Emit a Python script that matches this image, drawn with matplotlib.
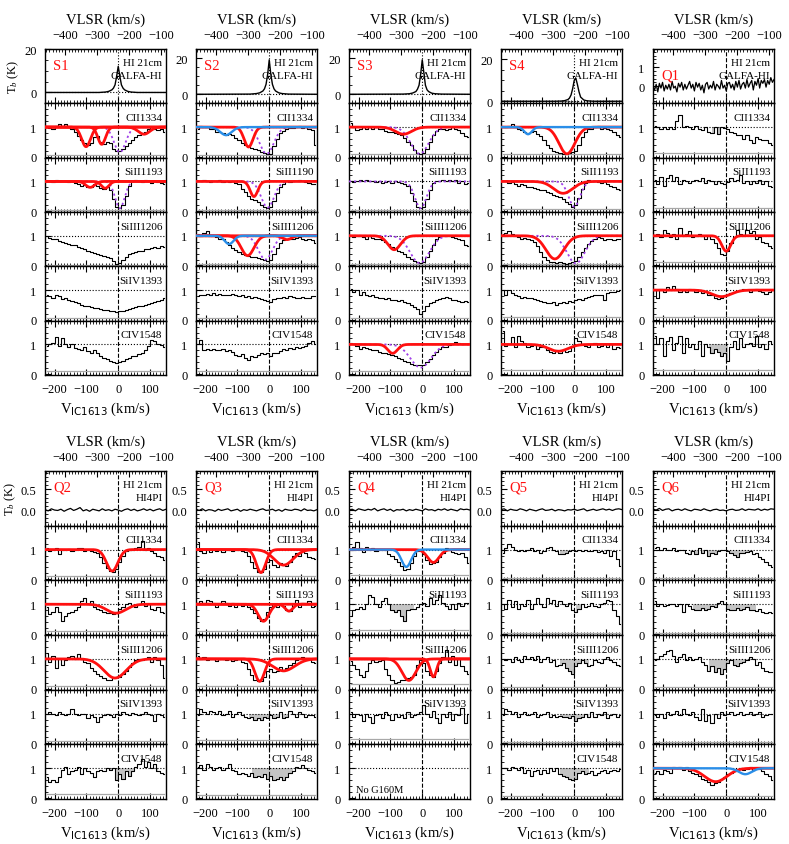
import numpy as np
import matplotlib
matplotlib.use('Agg')
import matplotlib.pyplot as plt
from matplotlib.ticker import MultipleLocator, FormatStrFormatter

plt.rcParams['font.family'] = 'serif'
plt.rcParams['font.serif'] = ['Liberation Serif', 'DejaVu Serif']
plt.rcParams['mathtext.fontset'] = 'custom'
plt.rcParams['mathtext.rm'] = 'Liberation Serif'
plt.rcParams['mathtext.it'] = 'Liberation Serif:italic'
plt.rcParams['mathtext.sf'] = 'DejaVu Sans'

# ---------------- data ----------------
vel = np.arange(-225, 150, 10)          # spectral bin centres (km/s, IC1613 frame)
ions = ['CII1334', 'SiII1193', 'SiIII1206', 'SiIV1393', 'CIV1548']
names = ['S1', 'S2', 'S3', 'S4', 'Q1', 'Q2', 'Q3', 'Q4', 'Q5', 'Q6']
surveys = ['GALFA-HI'] * 5 + ['HI4PI'] * 5
v_offset = -234   # VLSR = V_IC1613 + v_offset

# HI 21cm profiles
hi_v_s = [-230, -60, -40, -30, -20, -15, -10, -5, 0, 5, 10, 15, 20, 30, 40, 60, 150]
S1_HI = [0, 0, 0.2, 0.5, 1.2, 2.0, 3.5, 7.5, 12.0, 7.5, 3.5, 2.0, 1.2, 0.5, 0.2, 0, 0]
S2_HI = [0, 0.1, 0.4, 0.8, 1.8, 3.0, 5.5, 11.0, 19.0, 11.0, 5.5, 3.0, 1.8, 0.8, 0.4, 0.1, 0]
S3_HI = [0, 0.1, 0.3, 0.7, 1.5, 2.8, 5.0, 11.0, 19.0, 12.0, 5.0, 2.5, 1.5, 0.6, 0.3, 0.1, 0]
S4_HI = [0, 0, 0.1, 0.3, 0.8, 1.5, 3.0, 6.0, 10.0, 11.0, 8.0, 4.5, 2.0, 0.6, 0.2, 0, 0]
hi_v_q1 = np.arange(-230, 151, 5)
Q1_HI = [0.0, -0.2, 0.1, -0.3, 0.15, -0.1, 0.2, -0.25, 0.05, -0.15,
         0.1, -0.2, 0.25, -0.1, 0.0, -0.3, 0.15, -0.05, 0.2, -0.2,
         0.1, -0.15, 0.05, 0.25, -0.1, 0.1, -0.25, 0.2, -0.05, 0.15,
         -0.2, 0.05, -0.35, 0.1, 0.2, -0.15, 0.05, -0.1, 0.25, -0.2,
         0.1, 0.0, -0.15, 0.3, -0.1, 0.05, -0.25, 0.15, 0.2, -0.1,
         0.1, -0.2, 0.25, -0.05, 0.3, -0.15, 0.1, 0.2, -0.1, 0.35,
         -0.05, 0.15, 0.3, -0.2, 0.25, 0.05, 0.4, -0.1, 0.3, 0.15,
         0.35, -0.05, 0.3, 0.1, 0.45, 0.2, 0.35]
hi_v_q = np.arange(-230, 151, 10)
Q2_HI = [0.01, -0.02, 0.03, 0.0, -0.01, 0.02, -0.03, 0.01, 0.04, -0.01,
         0.02, 0.06, -0.02, 0.01, -0.03, 0.02, 0.0, -0.02, 0.03, -0.01,
         0.01, -0.02, 0.02, 0.0, -0.03, 0.01, 0.03, -0.01, 0.02, -0.02,
         0.0, 0.03, -0.01, 0.02, -0.02, 0.01, 0.03, -0.01, 0.02]
Q3_HI = [0.02, -0.01, 0.03, -0.02, 0.01, 0.0, -0.03, 0.02, -0.01, 0.01,
         0.03, -0.02, 0.0, 0.02, -0.03, 0.01, -0.01, 0.02, 0.0, -0.02,
         0.01, 0.03, -0.01, 0.0, 0.02, -0.02, 0.01, -0.03, 0.02, 0.0,
         -0.01, 0.02, 0.01, -0.02, 0.03, -0.01, 0.0, -0.02, 0.01]
Q4_HI = [0.0, 0.02, -0.02, 0.03, 0.01, -0.01, 0.02, 0.0, 0.04, -0.02,
         0.01, 0.03, -0.01, 0.02, -0.03, 0.01, 0.0, 0.02, -0.02, 0.01,
         -0.01, 0.02, 0.0, -0.02, 0.03, 0.0, 0.01, -0.02, 0.02, 0.0,
         0.03, -0.01, 0.02, 0.0, -0.02, 0.03, 0.01, 0.02, 0.0]
Q5_HI = [0.01, 0.03, -0.02, 0.02, 0.0, -0.01, 0.03, 0.01, -0.02, 0.02,
         0.0, -0.02, 0.01, 0.03, -0.01, 0.0, 0.02, -0.02, 0.01, 0.0,
         -0.02, 0.01, 0.0, 0.02, -0.01, 0.01, 0.03, -0.02, 0.0, 0.02,
         -0.01, 0.01, 0.03, 0.0, 0.02, -0.01, 0.02, 0.03, 0.01]
Q6_HI = [0.02, 0.0, 0.04, -0.01, 0.02, 0.03, -0.02, 0.01, 0.02, -0.01,
         0.03, 0.0, -0.02, 0.02, 0.01, -0.01, 0.03, 0.0, -0.02, 0.01,
         0.02, -0.01, 0.0, -0.02, 0.01, 0.02, -0.01, 0.0, 0.03, -0.01,
         0.02, 0.01, 0.0, 0.03, -0.01, 0.02, 0.0, 0.03, 0.02]

# normalized absorption spectra (CII, SiII, SiIII, SiIV, CIV)
S1_CII = [1.0, 0.98, 0.95, 1.05, 1.1, 1.0, 1.1, 1.0, 0.95, 0.85,
          0.7, 0.55, 0.45, 0.4, 0.45, 0.65, 0.7, 0.5, 0.42, 0.5,
          0.45, 0.25, 0.18, 0.2, 0.25, 0.35, 0.45, 0.55, 0.65, 0.72,
          0.8, 0.85, 0.92, 1.0, 0.95, 0.9, 0.92, 0.85]
S1_SiII = [1.0, 1.02, 0.98, 1.05, 1.0, 1.0, 1.02, 0.98, 1.0, 0.95,
           0.92, 0.85, 0.88, 0.8, 0.82, 0.9, 0.85, 0.78, 0.75, 0.8,
           0.7, 0.4, 0.15, 0.1, 0.2, 0.5, 0.85, 1.0, 1.05, 1.0,
           0.98, 1.05, 1.0, 0.95, 1.0, 0.98, 0.95, 0.9]
S1_SiIII = [1.0, 0.92, 0.88, 0.9, 0.82, 0.78, 0.75, 0.72, 0.7, 0.68,
            0.62, 0.58, 0.55, 0.5, 0.45, 0.42, 0.4, 0.35, 0.32, 0.3,
            0.25, 0.15, 0.05, 0.08, 0.18, 0.3, 0.38, 0.42, 0.45, 0.48,
            0.5, 0.55, 0.55, 0.6, 0.62, 0.58, 0.65, 0.62]
S1_SiIV = [0.85, 0.8, 0.75, 0.82, 0.8, 0.7, 0.72, 0.68, 0.62, 0.6,
           0.55, 0.5, 0.48, 0.45, 0.42, 0.4, 0.38, 0.35, 0.33, 0.32,
           0.3, 0.28, 0.26, 0.28, 0.3, 0.33, 0.35, 0.38, 0.42, 0.45,
           0.48, 0.5, 0.52, 0.55, 0.6, 0.62, 0.65, 0.72]
S1_CIV = [0.95, 1.0, 1.05, 1.25, 0.95, 1.2, 1.0, 0.92, 1.0, 0.88,
          0.85, 0.82, 0.9, 0.78, 0.72, 0.8, 0.7, 0.62, 0.55, 0.5,
          0.45, 0.42, 0.38, 0.4, 0.45, 0.5, 0.55, 0.6, 0.62, 0.68,
          0.72, 0.8, 0.95, 1.15, 1.1, 1.0, 0.98, 0.9]

S2_CII = [0.92, 1.02, 1.0, 1.0, 0.95, 0.92, 0.85, 0.82, 0.8, 0.75,
          0.78, 0.72, 0.64, 0.55, 0.48, 0.4, 0.35, 0.3, 0.26, 0.22,
          0.17, 0.12, 0.09, 0.1, 0.35, 0.6, 0.8, 0.88, 0.92, 0.97,
          0.98, 1.0, 1.02, 0.98, 1.0, 0.95, 0.9, 0.4]
S2_SiII = [1.0, 1.0, 1.05, 1.0, 0.98, 1.02, 1.0, 1.05, 0.98, 1.0,
           0.98, 1.0, 0.95, 0.9, 0.75, 0.65, 0.5, 0.42, 0.38, 0.3,
           0.22, 0.15, 0.12, 0.15, 0.35, 0.6, 0.8, 0.92, 1.0, 0.98,
           1.0, 1.02, 1.05, 1.0, 0.98, 0.95, 0.92, 0.9]
S2_SiIII = [1.05, 1.0, 1.1, 1.15, 1.0, 0.98, 0.95, 0.9, 0.88, 0.8,
            0.7, 0.6, 0.52, 0.45, 0.38, 0.35, 0.32, 0.3, 0.28, 0.25,
            0.22, 0.18, 0.15, 0.2, 0.4, 0.6, 0.75, 0.85, 0.9, 0.88,
            0.9, 0.92, 0.95, 0.88, 0.85, 0.9, 0.85, 0.75]
S2_SiIV = [0.8, 0.85, 0.82, 0.88, 0.85, 0.9, 0.85, 0.88, 0.85, 0.82,
           0.85, 0.88, 0.82, 0.8, 0.82, 0.78, 0.8, 0.75, 0.78, 0.72,
           0.7, 0.68, 0.62, 0.6, 0.7, 0.75, 0.72, 0.78, 0.75, 0.8,
           0.78, 0.72, 0.75, 0.78, 0.72, 0.75, 0.8, 0.8]
S2_CIV = [1.0, 1.15, 0.8, 0.85, 0.82, 0.85, 0.8, 0.82, 0.85, 0.78,
          0.8, 0.75, 0.65, 0.62, 0.68, 0.55, 0.48, 0.6, 0.58, 0.65,
          0.7, 0.68, 0.72, 0.6, 0.7, 0.72, 0.78, 0.85, 0.82, 0.88,
          0.85, 0.9, 0.88, 0.92, 0.95, 1.05, 1.1, 1.0]

S3_CII = [1.15, 1.0, 0.9, 0.95, 1.0, 0.95, 1.0, 0.95, 1.0, 0.95,
          0.92, 0.88, 0.85, 0.85, 0.8, 0.78, 0.72, 0.62, 0.5, 0.38,
          0.22, 0.12, 0.08, 0.12, 0.25, 0.5, 0.72, 0.88, 0.92, 0.95,
          0.9, 0.95, 1.0, 0.95, 0.9, 0.8, 0.7, 0.65]
S3_SiII = [1.0, 0.98, 1.02, 1.05, 1.0, 1.05, 1.02, 1.0, 0.98, 1.0,
           0.95, 0.98, 1.0, 0.95, 1.0, 0.98, 0.95, 0.92, 0.85, 0.6,
           0.35, 0.15, 0.1, 0.15, 0.4, 0.7, 0.95, 1.0, 1.02, 1.05,
           1.0, 1.05, 1.02, 1.05, 0.95, 1.0, 0.92, 0.95]
S3_SiIII = [1.0, 0.95, 0.98, 1.0, 0.95, 0.9, 0.98, 0.92, 0.88, 0.9,
            0.85, 0.8, 0.72, 0.62, 0.55, 0.5, 0.45, 0.38, 0.3, 0.22,
            0.15, 0.1, 0.08, 0.12, 0.3, 0.5, 0.7, 0.88, 0.95, 1.0,
            1.0, 0.98, 0.95, 0.92, 0.9, 0.85, 0.7, 0.65]
S3_SiIV = [1.05, 0.95, 1.0, 0.85, 0.92, 0.85, 0.8, 0.82, 0.78, 0.75,
           0.72, 0.7, 0.72, 0.68, 0.65, 0.62, 0.65, 0.6, 0.55, 0.5,
           0.42, 0.35, 0.2, 0.3, 0.48, 0.55, 0.6, 0.65, 0.7, 0.72,
           0.78, 0.72, 0.68, 0.65, 0.62, 0.6, 0.62, 0.6]
S3_CIV = [1.05, 1.0, 0.95, 0.85, 0.9, 0.88, 0.85, 0.82, 0.8, 0.75,
          0.72, 0.7, 0.68, 0.65, 0.6, 0.55, 0.5, 0.45, 0.4, 0.35,
          0.32, 0.3, 0.3, 0.32, 0.4, 0.52, 0.65, 0.75, 0.85, 0.9,
          0.92, 0.98, 1.02, 1.08, 1.05, 1.0, 1.02, 1.0]

S4_CII = [1.0, 1.0, 1.05, 1.1, 1.0, 0.95, 0.9, 0.85, 0.8, 0.82,
          0.88, 0.78, 0.7, 0.55, 0.4, 0.28, 0.2, 0.15, 0.12, 0.1,
          0.1, 0.12, 0.15, 0.2, 0.4, 0.65, 0.85, 0.92, 0.95, 1.0,
          1.05, 0.95, 0.98, 0.92, 0.9, 0.85, 0.75, 0.65]
S4_SiII = [1.0, 1.0, 0.95, 0.98, 0.92, 0.85, 0.9, 0.88, 0.82, 0.8,
           0.78, 0.75, 0.72, 0.7, 0.65, 0.6, 0.55, 0.5, 0.48, 0.4,
           0.32, 0.25, 0.15, 0.2, 0.45, 0.75, 0.95, 1.05, 1.0, 1.0,
           0.98, 0.95, 0.98, 0.9, 0.85, 0.8, 0.75, 0.72]
S4_SiIII = [1.05, 1.1, 1.15, 1.05, 1.0, 0.95, 0.9, 0.92, 0.88, 0.85,
            0.8, 0.65, 0.45, 0.3, 0.2, 0.12, 0.1, 0.08, 0.1, 0.08,
            0.05, 0.08, 0.1, 0.15, 0.3, 0.45, 0.6, 0.72, 0.82, 0.88,
            0.95, 0.92, 0.85, 0.88, 0.9, 0.85, 0.88, 0.9]
S4_SiIV = [1.0, 0.85, 1.0, 0.9, 0.82, 0.8, 0.75, 0.78, 0.72, 0.75,
           0.7, 0.65, 0.62, 0.6, 0.58, 0.55, 0.6, 0.5, 0.55, 0.6,
           0.58, 0.62, 0.6, 0.65, 0.7, 0.68, 0.72, 0.78, 0.8, 0.82,
           0.85, 0.82, 0.65, 0.9, 0.92, 0.95, 0.98, 1.0]
S4_CIV = [1.45, 0.95, 1.0, 1.25, 0.9, 1.3, 1.1, 1.05, 0.9, 0.95,
          1.0, 0.85, 0.92, 0.9, 0.8, 0.75, 0.7, 0.8, 0.72, 0.8,
          0.75, 0.78, 0.9, 1.2, 1.1, 1.0, 0.95, 0.92, 1.0, 1.05,
          0.92, 0.95, 1.0, 0.9, 1.0, 0.85, 0.9, 0.88]

Q1_CII = [1.05, 1.0, 0.95, 1.0, 0.92, 1.0, 0.95, 1.2, 1.4, 1.0,
          1.05, 1.0, 0.95, 1.05, 0.95, 0.9, 1.0, 0.85, 0.8, 1.0,
          0.78, 1.0, 0.98, 0.95, 0.85, 0.8, 0.72, 0.75, 0.6, 0.75,
          0.55, 0.45, 0.65, 0.6, 0.55, 0.58, 0.45, 0.4]
Q1_SiII = [1.05, 0.9, 1.15, 0.85, 1.1, 1.2, 1.0, 1.15, 0.9, 1.05,
           1.0, 0.95, 1.0, 1.05, 1.0, 1.1, 0.95, 1.05, 1.0, 0.92,
           1.0, 0.95, 0.92, 0.98, 1.1, 1.0, 1.05, 1.2, 0.95, 1.0,
           0.9, 1.0, 0.95, 1.05, 0.9, 1.0, 0.85, 0.8]
Q1_SiIII = [1.0, 1.05, 0.95, 1.2, 1.1, 0.95, 1.05, 0.9, 1.25, 1.0,
            1.05, 1.15, 0.95, 1.0, 1.05, 1.0, 0.9, 1.0, 0.88, 0.75,
            0.6, 0.4, 0.35, 0.5, 0.75, 0.95, 1.2, 1.05, 1.0, 1.2,
            1.1, 1.15, 0.9, 0.95, 0.8, 0.75, 0.65, 0.6]
Q1_SiIV = [1.0, 0.75, 1.05, 0.95, 1.1, 1.0, 1.15, 1.05, 0.95, 1.0,
           0.92, 1.05, 1.0, 0.95, 1.0, 0.9, 0.95, 0.85, 0.82, 0.75,
           0.7, 0.75, 0.8, 0.85, 0.9, 0.95, 0.98, 1.0, 1.05, 1.0,
           0.95, 1.0, 1.02, 0.98, 0.95, 0.88, 0.95, 1.0]
Q1_CIV = [1.3, 1.0, 1.2, 0.6, 1.1, 1.25, 0.8, 1.05, 1.3, 0.7,
          1.2, 0.9, 1.0, 0.85, 1.1, 0.6, 1.0, 0.9, 0.7, 0.85,
          0.75, 0.6, 0.7, 0.45, 0.9, 1.1, 0.85, 1.2, 0.9, 1.0,
          1.05, 0.95, 1.3, 0.9, 1.0, 0.85, 1.1, 1.0]

Q2_CII = [1.05, 0.95, 1.0, 1.05, 0.85, 1.0, 0.98, 1.02, 0.95, 1.0,
          1.05, 1.05, 0.95, 0.98, 0.95, 0.92, 0.88, 0.75, 0.55, 0.38,
          0.28, 0.25, 0.35, 0.6, 0.8, 0.95, 1.0, 0.98, 1.05, 1.1,
          1.3, 1.0, 1.05, 0.95, 0.9, 0.8, 0.75, 0.65]
Q2_SiII = [0.9, 0.67, 0.75, 0.9, 0.75, 0.45, 0.6, 0.7, 0.75, 0.8,
           0.9, 1.1, 1.2, 1.0, 1.1, 0.9, 0.85, 0.8, 0.75, 0.7,
           0.72, 0.68, 0.75, 0.85, 0.9, 1.0, 1.05, 0.95, 0.9, 1.0,
           1.1, 0.95, 1.0, 0.85, 0.8, 0.9, 0.75, 0.72]
Q2_SiIII = [1.2, 0.9, 1.1, 0.7, 1.0, 0.8, 0.95, 1.05, 1.1, 1.0,
            1.15, 1.0, 0.9, 0.85, 0.7, 0.6, 0.5, 0.42, 0.35, 0.3,
            0.3, 0.35, 0.38, 0.4, 0.5, 0.6, 0.72, 0.85, 0.95, 0.98,
            0.95, 1.0, 1.05, 0.9, 1.05, 0.95, 0.8, 0.35]
Q2_SiIV = [1.0, 1.05, 1.0, 0.95, 1.05, 1.0, 0.95, 1.0, 1.15, 1.0,
           0.95, 1.0, 0.98, 0.85, 0.95, 0.9, 0.72, 0.9, 0.95, 1.0,
           0.95, 0.9, 1.0, 0.95, 1.05, 1.0, 0.95, 1.02, 1.0, 0.95,
           0.98, 1.05, 1.0, 0.95, 0.75, 1.0, 0.95, 0.9]
Q2_CIV = [0.7, 0.55, 0.6, 0.55, 0.7, 0.95, 1.05, 0.8, 0.9, 0.95,
          1.05, 0.8, 1.0, 0.9, 0.85, 0.7, 0.9, 0.95, 0.9, 1.0,
          0.95, 1.0, 0.6, 0.8, 0.65, 0.9, 0.75, 0.9, 1.05, 1.15,
          1.3, 1.05, 1.2, 1.0, 1.15, 0.9, 0.85, 0.8]

Q3_CII = [1.25, 0.95, 0.9, 1.0, 0.92, 1.0, 0.95, 1.0, 0.92, 0.98,
          1.0, 0.95, 0.98, 1.0, 0.95, 0.92, 0.8, 0.6, 0.38, 0.25,
          0.25, 0.35, 0.6, 0.65, 0.5, 0.42, 0.55, 0.5, 0.45, 0.6,
          0.8, 0.9, 0.8, 0.95, 0.88, 0.75, 0.72, 0.7]
Q3_SiII = [1.05, 1.1, 1.0, 1.15, 1.1, 1.05, 0.9, 1.0, 1.1, 1.05,
           0.95, 1.05, 0.9, 1.0, 0.95, 1.0, 0.9, 0.85, 0.7, 0.55,
           0.45, 0.5, 0.75, 0.9, 1.0, 0.9, 1.05, 0.95, 0.8, 0.78,
           1.0, 1.15, 0.9, 1.05, 1.0, 1.1, 0.9, 0.95]
Q3_SiIII = [1.1, 1.0, 1.05, 0.95, 1.0, 1.0, 0.92, 0.98, 1.0, 0.95,
            1.0, 0.92, 0.95, 1.0, 0.88, 0.85, 0.65, 0.45, 0.3, 0.25,
            0.25, 0.4, 0.6, 0.65, 0.55, 0.6, 0.72, 0.6, 0.7, 0.8,
            0.85, 0.95, 1.0, 1.05, 0.95, 1.0, 0.9, 0.85]
Q3_SiIV = [0.95, 1.15, 1.05, 1.0, 1.1, 1.05, 1.0, 1.1, 0.95, 1.0,
           1.1, 0.9, 1.0, 1.05, 0.95, 0.9, 0.85, 0.9, 0.8, 0.85,
           0.8, 0.9, 0.85, 0.95, 0.85, 0.9, 1.05, 0.85, 0.9, 1.1,
           1.0, 0.9, 1.05, 1.0, 0.9, 0.95, 0.95, 0.9]
Q3_CIV = [1.05, 1.1, 0.95, 1.15, 1.05, 0.95, 1.0, 1.05, 0.95, 1.0,
          1.15, 0.95, 0.9, 0.8, 0.85, 0.8, 0.75, 0.85, 0.7, 0.75,
          0.7, 0.8, 0.65, 0.75, 0.6, 0.65, 0.7, 0.6, 0.7, 0.85,
          0.9, 1.05, 1.0, 1.1, 1.0, 0.95, 0.9, 0.85]

Q4_CII = [1.0, 1.1, 1.25, 1.05, 0.92, 1.1, 1.0, 1.05, 0.95, 1.0,
          1.0, 0.98, 0.85, 0.8, 0.7, 0.6, 0.45, 0.3, 0.35, 0.55,
          0.8, 0.95, 0.98, 0.85, 0.65, 0.52, 0.55, 0.6, 0.75, 0.9,
          1.05, 1.0, 0.92, 0.9, 0.85, 0.88, 0.75, 0.55]
Q4_SiII = [0.6, 0.8, 0.85, 0.9, 0.85, 1.0, 1.3, 1.25, 1.0, 0.9,
           1.1, 1.2, 1.0, 0.8, 0.75, 0.8, 0.6, 0.45, 0.8, 0.85,
           0.85, 0.9, 1.0, 1.05, 0.95, 1.2, 1.0, 1.15, 1.3, 1.05,
           0.95, 0.85, 1.0, 0.85, 1.05, 0.95, 1.05, 1.05]
Q4_SiIII = [0.92, 0.8, 0.65, 0.45, 0.4, 0.6, 0.85, 0.95, 0.9, 0.92,
            0.95, 0.65, 0.45, 0.3, 0.2, 0.22, 0.3, 0.28, 0.35, 0.4,
            0.45, 0.8, 0.95, 0.85, 0.6, 0.45, 0.4, 0.6, 0.85, 1.05,
            1.3, 0.9, 1.1, 0.8, 1.0, 0.75, 0.6, 0.5]
Q4_SiIV = [1.05, 0.9, 1.0, 0.95, 0.75, 1.0, 0.9, 0.7, 0.95, 1.0,
           0.85, 1.05, 0.95, 0.8, 1.0, 0.9, 0.95, 0.85, 1.05, 0.9,
           0.95, 1.0, 1.05, 1.3, 1.0, 0.9, 1.1, 0.85, 0.7, 1.0,
           0.9, 1.05, 0.8, 1.0, 0.95, 1.2, 0.7, 1.0]
Q4_CIV = None   # no G160M data

Q5_CII = [0.9, 1.05, 1.2, 1.1, 1.0, 0.95, 1.0, 0.95, 1.0, 1.05,
          0.95, 1.0, 0.9, 0.95, 1.05, 1.1, 1.0, 0.95, 0.85, 0.85,
          0.88, 0.95, 0.98, 0.95, 1.0, 0.95, 0.98, 0.95, 0.95, 1.0,
          0.92, 0.95, 0.9, 1.0, 0.8, 0.95, 0.7, 0.45]
Q5_SiII = [1.0, 0.85, 1.15, 0.9, 1.1, 0.85, 1.0, 0.95, 1.15, 0.85,
           1.0, 1.2, 1.0, 0.9, 1.2, 1.05, 1.15, 0.95, 1.1, 1.0,
           0.95, 1.05, 0.8, 0.75, 0.85, 1.0, 0.9, 0.95, 1.05, 0.95,
           0.9, 1.0, 1.05, 1.15, 1.1, 0.8, 0.6, 0.35]
Q5_SiIII = [1.0, 0.95, 1.0, 0.9, 1.05, 0.95, 0.9, 1.1, 1.0, 1.05,
            0.95, 1.1, 0.9, 1.0, 1.05, 0.9, 0.95, 0.75, 0.8, 0.85,
            0.7, 0.6, 0.5, 0.75, 0.85, 0.95, 0.85, 0.75, 0.8, 0.95,
            0.9, 0.85, 1.0, 1.05, 0.95, 0.9, 0.8, 0.75]
Q5_SiIV = [0.95, 1.15, 1.1, 1.0, 1.05, 0.9, 1.0, 1.05, 0.95, 1.0,
           1.05, 0.9, 0.95, 1.0, 1.05, 0.9, 0.95, 0.88, 0.92, 0.88,
           0.9, 0.85, 0.92, 0.75, 0.85, 0.9, 1.0, 0.88, 1.05, 0.9,
           1.0, 0.95, 1.05, 0.85, 0.95, 1.0, 0.9, 0.95]
Q5_CIV = [1.0, 1.0, 0.95, 1.05, 1.0, 0.95, 1.05, 0.85, 0.95, 0.75,
          0.9, 0.95, 0.8, 0.95, 0.85, 1.0, 0.9, 1.0, 0.8, 0.75,
          0.7, 0.65, 0.6, 0.65, 0.85, 0.9, 0.8, 0.85, 0.9, 0.78,
          0.85, 0.9, 0.95, 0.85, 0.9, 0.95, 0.9, 0.98]

Q6_CII = [1.05, 1.1, 1.0, 1.05, 0.98, 1.0, 1.05, 0.95, 1.0, 0.98,
          0.9, 0.85, 0.95, 0.85, 1.05, 0.9, 1.0, 0.8, 0.9, 0.85,
          0.95, 1.0, 0.98, 0.95, 0.9, 0.82, 0.75, 0.88, 0.9, 0.92,
          0.95, 0.85, 0.88, 0.75, 0.7, 0.6, 0.5, 0.4]
Q6_SiII = [1.1, 0.95, 1.0, 0.95, 0.98, 1.0, 1.02, 0.95, 1.0, 0.75,
           1.0, 0.95, 0.85, 0.8, 0.82, 0.88, 0.8, 0.85, 0.95, 0.92,
           1.05, 1.1, 1.0, 0.85, 0.8, 0.82, 0.88, 0.8, 0.85, 0.9,
           0.82, 0.8, 0.78, 0.85, 0.75, 0.7, 0.75, 0.72]
Q6_SiIII = [0.95, 1.0, 1.1, 1.15, 1.25, 1.3, 1.1, 0.9, 1.05, 1.15,
            0.95, 1.05, 0.95, 1.0, 1.05, 0.9, 0.8, 0.6, 0.75, 0.55,
            0.7, 0.5, 0.65, 0.85, 0.95, 0.8, 0.75, 0.85, 0.9, 0.95,
            1.05, 1.0, 0.8, 0.9, 0.7, 0.6, 0.55, 0.55]
Q6_SiIV = [0.95, 0.9, 1.0, 0.85, 1.05, 0.95, 1.0, 1.1, 0.95, 1.15,
           1.0, 0.95, 1.05, 0.9, 0.8, 1.15, 0.75, 0.95, 0.7, 1.0,
           0.85, 1.05, 0.95, 1.0, 1.05, 0.95, 1.0, 1.05, 0.95, 1.0,
           1.05, 0.95, 1.0, 1.05, 0.9, 0.95, 1.0, 0.98]
Q6_CIV = [0.85, 0.9, 0.8, 0.95, 0.9, 0.85, 1.05, 1.0, 1.05, 0.95,
          1.05, 0.9, 0.85, 0.8, 0.75, 0.65, 0.6, 0.55, 0.45, 0.5,
          0.55, 0.65, 0.7, 0.8, 0.85, 0.9, 0.95, 1.0, 0.95, 0.98,
          1.05, 0.95, 1.0, 0.98, 0.9, 0.8, 0.75, 0.6]

# error-spectrum levels (CII, SiII, SiIII, SiIV, CIV)
err_levels = {
    'S1': [0.05, 0.04, 0.03, 0.05, 0.1], 'S2': [0.05, 0.05, 0.05, 0.05, 0.1],
    'S3': [0.08, 0.05, 0.06, 0.05, 0.1], 'S4': [0.1, 0.06, 0.06, 0.1, 0.15],
    'Q1': [0.12, 0.1, 0.12, 0.1, 0.15], 'Q2': [0.12, 0.1, 0.1, 0.08, 0.15],
    'Q3': [0.1, 0.1, 0.08, 0.1, 0.12], 'Q4': [0.15, 0.15, 0.15, 0.15, None],
    'Q5': [0.05, 0.05, 0.06, 0.05, 0.08], 'Q6': [0.05, 0.05, 0.05, 0.05, 0.08]}

# Gaussian fit components: panel index -> [(centre, depth, sigma)]
red_fits = {
    'S1': {1: [(-101, 0.66, 14), (-52, 0.58, 12), (81, 0.24, 18)], 2: [(-88, 0.2, 14), (-41, 0.23, 12)]},
    'S2': {1: [(-65, 0.67, 14)], 2: [(-48, 0.51, 12)], 3: [(-68, 0.67, 20), (56, 0.13, 14)]},
    'S3': {1: [(-59, 0.24, 25)], 3: [(-88, 0.47, 20)], 5: [(-93, 0.3, 15)]},
    'S4': {1: [(-23, 0.9, 25)], 2: [(-35, 0.4, 30)], 3: [(-61, 0.78, 28)], 5: [(-50, 0.23, 30)]},
    'Q1': {3: [(0, 0.52, 14)], 4: [(-15, 0.22, 30)]},
    'Q2': {1: [(-19, 0.72, 18)], 2: [(-7, 0.3, 30)], 3: [(-10, 0.64, 35)]},
    'Q3': {1: [(-26, 0.77, 15), (45, 0.52, 30)], 2: [(-18, 0.57, 17), (62, 0.23, 12)],
           3: [(-30, 0.75, 15), (45, 0.4, 35)]},
    'Q4': {1: [(35, 0.43, 18)], 3: [(-42, 0.72, 22), (35, 0.6, 10)]},
    'Q5': {},
    'Q6': {5: [(-33, 0.45, 35)]}}
blue_fits = {'S2': {1: [(-136, 0.27, 18)], 3: [(-126, 0.28, 14)]},
             'S4': {1: [(-145, 0.24, 12)]},
             'Q4': {1: [(-50, 0.58, 15)]},
             'Q6': {5: [(60, 0.2, 20)]}}
purple_fits = {'S1': {1: [(5, 0.85, 18)], 2: [(5, 0.9, 15)]},
               'S2': {1: [(-8, 0.9, 22)], 2: [(-5, 0.88, 20)], 3: [(-12, 0.8, 22)]},
               'S3': {1: [(-8, 0.9, 28)], 2: [(-5, 0.9, 18)], 3: [(-8, 0.92, 30)], 5: [(-5, 0.78, 32)]},
               'S4': {2: [(0, 0.85, 18)], 3: [(5, 0.93, 28)]}}
# velocity windows shaded grey
shade = {'Q1': {1: (-45, -5), 5: (-60, 5)},
         'Q2': {5: (-25, 130)},
         'Q3': {4: (-65, 75), 5: (-60, 80)},
         'Q4': {2: (-105, -25)},
         'Q5': {1: (-45, 0), 2: (0, 35), 3: (-50, 50), 4: (-50, 50), 5: (-45, 50)},
         'Q6': {1: (-120, 90), 2: (-110, 100), 3: (-60, 70)}}

spectra = {
    'S1': [S1_CII, S1_SiII, S1_SiIII, S1_SiIV, S1_CIV],
    'S2': [S2_CII, S2_SiII, S2_SiIII, S2_SiIV, S2_CIV],
    'S3': [S3_CII, S3_SiII, S3_SiIII, S3_SiIV, S3_CIV],
    'S4': [S4_CII, S4_SiII, S4_SiIII, S4_SiIV, S4_CIV],
    'Q1': [Q1_CII, Q1_SiII, Q1_SiIII, Q1_SiIV, Q1_CIV],
    'Q2': [Q2_CII, Q2_SiII, Q2_SiIII, Q2_SiIV, Q2_CIV],
    'Q3': [Q3_CII, Q3_SiII, Q3_SiIII, Q3_SiIV, Q3_CIV],
    'Q4': [Q4_CII, Q4_SiII, Q4_SiIII, Q4_SiIV, Q4_CIV],
    'Q5': [Q5_CII, Q5_SiII, Q5_SiIII, Q5_SiIV, Q5_CIV],
    'Q6': [Q6_CII, Q6_SiII, Q6_SiIII, Q6_SiIV, Q6_CIV]}
hi_data = {'S1': (hi_v_s, S1_HI), 'S2': (hi_v_s, S2_HI), 'S3': (hi_v_s, S3_HI),
           'S4': (hi_v_s, S4_HI), 'Q1': (hi_v_q1, Q1_HI), 'Q2': (hi_v_q, Q2_HI),
           'Q3': (hi_v_q, Q3_HI), 'Q4': (hi_v_q, Q4_HI), 'Q5': (hi_v_q, Q5_HI),
           'Q6': (hi_v_q, Q6_HI)}

# ---------------- layout ----------------
W, H = 789, 845
fig = plt.figure(figsize=(W / 100, H / 100), dpi=100)
col_left = [45, 196, 349, 501, 653]
col_w = 121
row_top = [50, 472]
row_bot = [376, 800]
xlim = (-230, 150)
vf = np.linspace(xlim[0], xlim[1], 500)
vel_arr = np.asarray(vel)

RED, BLUE, PURPLE = '#ff1010', '#2a8ee8', '#a040e8'


def gauss_model(c, d, s):
    return 1 - d * np.exp(-0.5 * ((vf - c) / s) ** 2)


for k, name in enumerate(names):
    row = k // 5
    col = k % 5
    ph = (row_bot[row] - row_top[row]) / 6.0
    for j in range(6):
        top = row_top[row] + j * ph
        ax = fig.add_axes([col_left[col] / W, 1 - (top + ph) / H, col_w / W, ph / H])
        ax.set_xlim(*xlim)
        ax.xaxis.set_major_locator(MultipleLocator(100))
        ax.xaxis.set_minor_locator(MultipleLocator(10))
        ax.tick_params(which='both', direction='in', labelsize=9, pad=6)
        ax.tick_params(which='major', length=4)
        ax.tick_params(which='minor', length=2)
        for sp in ax.spines.values():
            sp.set_linewidth(1.0)
        if j == 0:
            hv, hT = hi_data[name]
            ax.plot(hv, hT, color='k', lw=1.0 if name[0] == 'S' else 0.9)
            if name[0] == 'S':
                if name == 'S4':
                    ax.set_ylim(-1, 25)
                elif name == 'S1':
                    ax.set_ylim(-5, 20)
                else:
                    ax.set_ylim(-5, 25)
                ax.set_yticks([0, 20])
                ax.yaxis.set_minor_locator(MultipleLocator(5))
                ax.axvline(0, color='k', ls=':', lw=0.8)
                ax.axhline(0, color='k', ls=':', lw=0.8)
            elif name == 'Q1':
                ax.set_ylim(-0.9, 1.95)
                ax.set_yticks([0, 1])
                ax.yaxis.set_minor_locator(MultipleLocator(0.2))
                ax.axvline(0, color='k', ls='--', lw=0.8)
            else:
                ax.set_ylim(-0.38, 0.95)
                ax.set_yticks([0.0, 0.5])
                ax.yaxis.set_major_formatter(FormatStrFormatter('%.1f'))
                ax.yaxis.set_minor_locator(MultipleLocator(0.1))
                ax.axvline(0, color='k', ls='--', lw=0.8)
            ax.tick_params(axis='x', which='both', top=False, bottom=True, labelbottom=False)
            sec = ax.secondary_xaxis('top', functions=(lambda x: x + v_offset, lambda x: x - v_offset))
            sec.set_xticks([-400, -300, -200, -100])
            sec.xaxis.set_minor_locator(MultipleLocator(10))
            sec.tick_params(which='both', direction='in', labelsize=9, pad=6)
            sec.tick_params(which='major', length=4)
            sec.tick_params(which='minor', length=2)
            sec.set_xlabel('VLSR (km/s)', fontsize=10.5, labelpad=4)
            ax.text(0.97, 0.76, 'HI 21cm', transform=ax.transAxes, ha='right', va='center', fontsize=8)
            ax.text(0.97, 0.52, surveys[k], transform=ax.transAxes, ha='right', va='center', fontsize=8)
            ylab_y = 0.53 if name == 'Q1' else 0.7
            ax.text(0.07, ylab_y, name, transform=ax.transAxes, ha='left', va='center',
                    fontsize=10.5, color=RED)
            if col == 0:
                ax.set_ylabel(r'T$_b$ (K)', fontsize=9, labelpad=2)
            continue

        # absorption panels
        idx = j - 1
        ax.set_ylim(-0.03, 1.8)
        ax.set_yticks([0, 1])
        ax.yaxis.set_minor_locator(MultipleLocator(0.2))
        ax.tick_params(axis='x', which='both', top=True, bottom=True, labelbottom=(j == 5))
        ax.axhline(1, color='k', ls=':', lw=0.8)
        ax.axvline(0, color='k', ls='--', lw=0.8)
        flux = spectra[name][idx]
        if flux is None:
            ax.text(0.06, 0.17, 'No G160M', transform=ax.transAxes, fontsize=7.5, ha='left', va='center')
        else:
            f = np.asarray(flux)
            sh = shade.get(name, {}).get(j)
            if sh is not None:
                m = (vel_arr >= sh[0]) & (vel_arr <= sh[1])
                ax.fill_between(vel_arr, np.minimum(f, 1), 1, where=m, step='mid',
                                color='#c4c4c4', lw=0, zorder=1)
            e = err_levels[name][idx]
            if e is not None:
                ax.step(vel_arr, np.full(len(vel_arr), e), where='mid', color='#a8a8a8', lw=0.9, zorder=2)
            ax.step(vel_arr, f, where='mid', color='k', lw=0.8, zorder=3)
            for (c, d, s) in purple_fits.get(name, {}).get(j, []):
                ax.plot(vf, gauss_model(c, d, s), color=PURPLE, lw=1.3, ls=(0, (1.2, 1.6)), zorder=4)
            for (c, d, s) in red_fits.get(name, {}).get(j, []):
                ax.plot(vf, gauss_model(c, d, s), color=RED, lw=2.0, zorder=5)
            for (c, d, s) in blue_fits.get(name, {}).get(j, []):
                ax.plot(vf, gauss_model(c, d, s), color=BLUE, lw=1.7, zorder=6)
            lab = ions[idx]
            if name == 'S2' and idx == 1:
                lab = 'SiII1190'
            ax.text(0.97, 0.74, lab, transform=ax.transAxes, ha='right', va='center', fontsize=8, zorder=7)
        if j == 5:
            ax.set_xlabel(r'V$_{\mathsf{IC1613}}$ (km/s)', fontsize=10.5, labelpad=3)

fig.savefig('out.png', dpi=100)
